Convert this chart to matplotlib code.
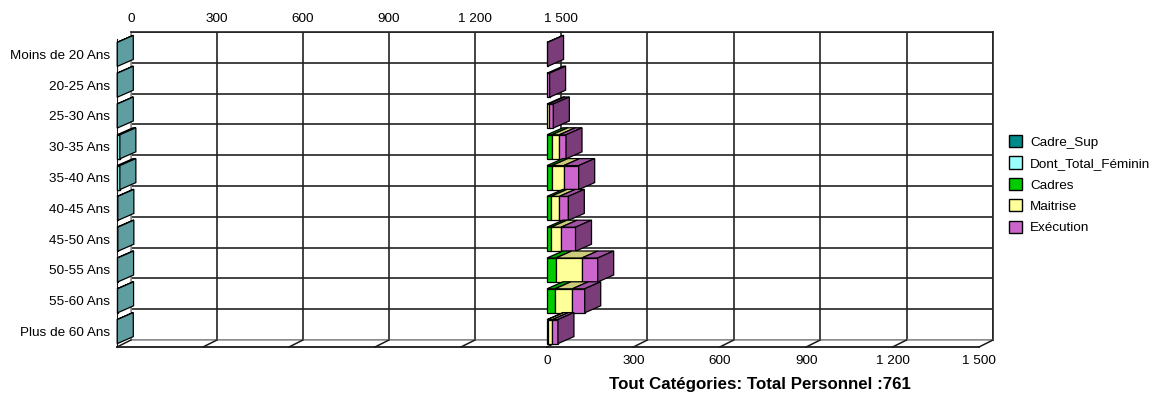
import matplotlib
matplotlib.use("Agg")
import matplotlib.pyplot as plt
from matplotlib.patches import Polygon, Patch
import numpy as np

plt.rcParams["font.family"] = ["Liberation Sans", "DejaVu Sans"]

# ---- data -------------------------------------------------------------
age_groups = ["Moins de 20 Ans", "20-25 Ans", "25-30 Ans", "30-35 Ans", "35-40 Ans",
              "40-45 Ans", "45-50 Ans", "50-55 Ans", "55-60 Ans", "Plus de 60 Ans"]
cadre_sup = [1, 1, 1, 10, 10, 3, 3, 2, 2, 1]
dont_total_feminin = [0, 0, 0, 9, 9, 0, 0, 0, 0, 0]
cadres = [0, 0, 0, 17, 17, 14, 14, 31, 28, 3]
maitrise = [0, 0, 6, 26, 41, 29, 35, 90, 60, 16]
execution = [2, 9, 16, 23, 52, 31, 50, 55, 43, 19]
x_ticks = [0, 300, 600, 900, 1200, 1500]
x_tick_labels = ["0", "300", "600", "900", "1 200", "1 500"]
total_personnel = 761

# ---- styling ----------------------------------------------------------
COL_CADRE_SUP = "#008b8b"
COL_CADRE_SUP_SIDE = "#5f9ea0"
COL_FEMININ = "#99ffff"
COL_CADRES = "#00cc00"
COL_MAITRISE = "#ffff99"
COL_EXECUTION = "#cc66cc"
GRID = "#222222"
FS = 9.7


def shade(hex_color, k):
    r, g, b = matplotlib.colors.to_rgb(hex_color)
    return (r * k, g * k, b * k)


W, H, DPI = 1156, 399, 100
fig = plt.figure(figsize=(W / DPI, H / DPI), dpi=DPI)
fig.patch.set_facecolor("white")

# pixel geometry of the pseudo-3D box
PLANE_DX, PLANE_DY = 14, 7       # depth between front and back planes
BAR_DX, BAR_DY = 16, 7           # depth of the bars
BAR_H = 0.78
TOP_BACK, PLOT_H = 32, 308


def rect(x, y_top, w, h):
    return [x / W, 1 - (y_top + h) / H, w / W, h / H]


back_l = fig.add_axes(rect(131, TOP_BACK, 430, PLOT_H))
back_r = fig.add_axes(rect(561, TOP_BACK, 432, PLOT_H))
front_l = fig.add_axes(rect(117, TOP_BACK + PLANE_DY, 430, PLOT_H))
front_r = fig.add_axes(rect(547, TOP_BACK + PLANE_DY, 432, PLOT_H))

n = len(age_groups)
ypos = np.arange(n)

# back plane: grid and frame
for ax, side in ((back_l, "left"), (back_r, "right")):
    ax.set_xlim(0, 1500)
    ax.set_ylim(n - 0.5, -0.5)
    ax.set_xticks(x_ticks)
    ax.set_yticks(np.arange(-0.5, n, 1.0))
    ax.grid(True, color=GRID, lw=1.2)
    ax.tick_params(length=0, labelleft=False, labelbottom=False)
    for s in ax.spines.values():
        s.set_color(GRID)
        s.set_linewidth(1.2)
    ax.spines["bottom"].set_color("#9a9a9a")
    if side == "left":
        ax.spines["right"].set_visible(False)
        ax.spines["left"].set_color("#9a9a9a")
    else:
        ax.spines["left"].set_visible(False)

back_l.xaxis.tick_top()
back_l.set_xticklabels(x_tick_labels)
back_l.tick_params(axis="x", labeltop=True, length=0, pad=5, labelsize=FS)
back_r.xaxis.tick_top()
back_r.tick_params(axis="x", labeltop=False, length=0)

# front plane: bars, floor edge, labels
for ax in (front_l, front_r):
    ax.set_xlim(0, 1500)
    ax.set_ylim(n - 0.5, -0.5)
    ax.patch.set_visible(False)
    for s in ("top", "right"):
        ax.spines[s].set_visible(False)
    ax.spines["bottom"].set_color("#1a1a1a")
    ax.spines["left"].set_color("#1a1a1a")
    ax.spines["bottom"].set_linewidth(1.3)
    ax.set_xticks(x_ticks)
    ax.tick_params(length=0)

front_l.set_yticks(ypos)
front_l.set_yticklabels(age_groups)
front_l.tick_params(axis="y", pad=5, labelsize=FS)
front_l.tick_params(axis="x", labelbottom=False)
front_r.spines["left"].set_visible(False)
front_r.set_yticks([])
front_r.set_xticklabels(x_tick_labels)
front_r.tick_params(axis="x", pad=6, labelsize=FS)

px_y = n / PLOT_H  # data units per pixel vertically


def floor_ticks(ax, width_px, include_first):
    px_x = 1500 / width_px
    ddx, ddy = PLANE_DX * px_x, PLANE_DY * px_y
    for i, xt in enumerate(x_ticks):
        if i == 0 and not include_first:
            continue
        ax.plot([xt, xt + ddx], [n - 0.5, n - 0.5 - ddy], color="#1a1a1a",
                lw=1.1, clip_on=False, zorder=2)


floor_ticks(front_l, 430, True)
floor_ticks(front_r, 432, False)


def box_row(ax, width_px, y, values, colors, zbase):
    px_x = 1500 / width_px
    dx, dy = BAR_DX * px_x, BAR_DY * px_y
    yt, yb = y - BAR_H / 2, y + BAR_H / 2
    left = 0.0
    last = None
    for v, c in zip(values, colors):
        if v <= 0:
            continue
        ax.barh(y, v, left=left, height=BAR_H, color=c, edgecolor="black",
                lw=0.9, zorder=zbase, clip_on=False)
        ax.add_patch(Polygon([(left, yt), (left + v, yt), (left + v + dx, yt - dy),
                              (left + dx, yt - dy)], closed=True,
                             facecolor=shade(c, 0.8), edgecolor="black", lw=0.9,
                             zorder=zbase + 0.01, clip_on=False))
        left += v
        last = c
    if last is not None:
        return (left, yt, yb, dx, dy, last)
    return None


def side_face(ax, geom, color, z):
    x1, yt, yb, dx, dy, _ = geom
    ax.add_patch(Polygon([(x1, yt), (x1, yb), (x1 + dx, yb - dy), (x1 + dx, yt - dy)],
                         closed=True, facecolor=color, edgecolor="black", lw=0.9,
                         zorder=z, clip_on=False))


for i in range(n):
    z = 3 + i * 0.1
    # left panel: Cadre_Sup with its female share in front
    g = box_row(front_l, 430, i, [cadre_sup[i]], [COL_CADRE_SUP], z)
    if g is not None:
        front_l.patches[-1].set_facecolor(COL_CADRE_SUP_SIDE)
        side_face(front_l, g, COL_CADRE_SUP_SIDE, z + 0.02)
    if dont_total_feminin[i] > 0:
        front_l.barh(i, dont_total_feminin[i], height=BAR_H, color=COL_FEMININ,
                     edgecolor="black", lw=0.9, zorder=z + 0.015, clip_on=False)
    # right panel: stacked categories
    g = box_row(front_r, 432, i, [cadres[i], maitrise[i], execution[i]],
                [COL_CADRES, COL_MAITRISE, COL_EXECUTION], z)
    if g is not None:
        side_face(front_r, g, shade(g[-1], 0.6), z + 0.02)

# legend
handles = [Patch(facecolor=c, edgecolor="black", lw=1.0, label=l) for c, l in (
    (COL_CADRE_SUP, "Cadre_Sup"), (COL_FEMININ, "Dont_Total_Féminin"),
    (COL_CADRES, "Cadres"), (COL_MAITRISE, "Maitrise"), (COL_EXECUTION, "Exécution"))]
fig.legend(handles=handles, loc="upper left", bbox_to_anchor=(1009 / W, 1 - 135 / H),
           frameon=False, fontsize=FS, handlelength=1.0, handleheight=1.0,
           handletextpad=0.55, labelspacing=0.58, borderpad=0, borderaxespad=0)

fig.text(760 / W, 1 - 385 / H, f"Tout Catégories: Total Personnel :{total_personnel}",
         ha="center", va="center", fontsize=12.2, fontweight="bold")

fig.savefig("out.png", dpi=DPI)
